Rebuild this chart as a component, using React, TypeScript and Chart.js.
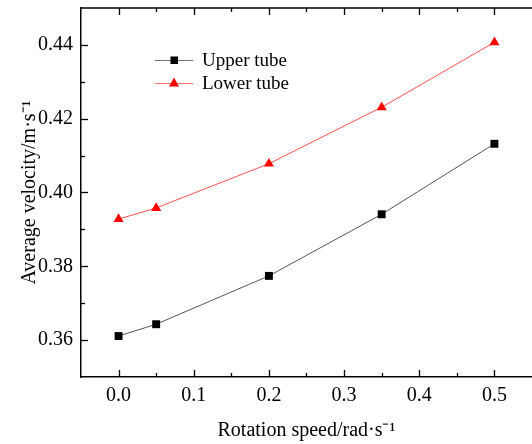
import React, { useEffect, useRef } from "react";
import { Chart, registerables } from "chart.js";

Chart.register(...registerables);

const rotationSpeeds = [0.0, 0.05, 0.2, 0.35, 0.5];
const upperTube = [0.3611, 0.3643, 0.3774, 0.3941, 0.4132];
const lowerTube = [0.3928, 0.3958, 0.4078, 0.4231, 0.4407];

const xMajorTicks = [0.0, 0.1, 0.2, 0.3, 0.4, 0.5];
const xMinorTicks = [0.05, 0.15, 0.25, 0.35, 0.45];
const yMajorTicks = [0.36, 0.38, 0.4, 0.42, 0.44];
const yMinorTicks = [0.37, 0.39, 0.41, 0.43];

const seriesNames = ["Upper tube", "Lower tube"];
const xTitle = "Rotation speed/rad·s⁻¹";
const yTitle = "Average velocity/m·s⁻¹";

const FONT = "'Liberation Serif', 'Times New Roman', serif";

const frameTicksPlugin = {
  id: "frameTicks",
  afterDraw(chart: any) {
    const { ctx, chartArea } = chart;
    const xs = chart.scales.x;
    const ys = chart.scales.y;
    const { left, right, top, bottom } = chartArea;
    ctx.save();
    ctx.strokeStyle = "#000";
    ctx.lineWidth = 1.5;
    ctx.beginPath();
    ctx.moveTo(left, top);
    ctx.lineTo(right + 2, top);
    ctx.stroke();
    ctx.lineWidth = 1.3;
    const major = 7;
    const minor = 4;
    const drawX = (v: number, len: number) => {
      const px = Math.round(xs.getPixelForValue(v)) + 0.5;
      ctx.beginPath();
      ctx.moveTo(px, bottom);
      ctx.lineTo(px, bottom - len);
      ctx.moveTo(px, top);
      ctx.lineTo(px, top + len);
      ctx.stroke();
    };
    const drawY = (v: number, len: number) => {
      const py = Math.round(ys.getPixelForValue(v)) + 0.5;
      ctx.beginPath();
      ctx.moveTo(left, py);
      ctx.lineTo(left + len, py);
      ctx.stroke();
    };
    xMajorTicks.forEach((v) => drawX(v, major));
    xMinorTicks.forEach((v) => drawX(v, minor));
    yMajorTicks.forEach((v) => drawY(v, major));
    yMinorTicks.forEach((v) => drawY(v, minor));
    ctx.restore();
  },
};

const legendPlugin = {
  id: "customLegend",
  afterDraw(chart: any) {
    const { ctx } = chart;
    const rows = [
      { y: 60, line: "#707070", fill: "#000", style: "rect" },
      { y: 83, line: "#ff7070", fill: "#ff0000", style: "triangle" },
    ];
    ctx.save();
    rows.forEach((row, i) => {
      ctx.strokeStyle = row.line;
      ctx.lineWidth = 1.2;
      ctx.beginPath();
      ctx.moveTo(155, row.y + 0.5);
      ctx.lineTo(193, row.y + 0.5);
      ctx.stroke();
      ctx.fillStyle = row.fill;
      if (row.style === "rect") {
        ctx.fillRect(174 - 3.5, row.y - 3.5, 7.5, 7.5);
      } else {
        ctx.beginPath();
        ctx.moveTo(174, row.y - 5.5);
        ctx.lineTo(179, row.y + 3.5);
        ctx.lineTo(169, row.y + 3.5);
        ctx.closePath();
        ctx.fill();
      }
      ctx.fillStyle = "#000";
      ctx.font = `19px ${FONT}`;
      ctx.textBaseline = "middle";
      ctx.textAlign = "left";
      ctx.fillText(seriesNames[i], 202, row.y + 1);
    });
    ctx.restore();
  },
};

export default function App() {
  const canvasRef = useRef<HTMLCanvasElement | null>(null);

  useEffect(() => {
    if (!canvasRef.current) return;
    const chart = new Chart(canvasRef.current, {
      type: "line",
      data: {
        datasets: [
          {
            label: seriesNames[0],
            data: rotationSpeeds.map((x, i) => ({ x, y: upperTube[i] })),
            borderColor: "#555",
            borderWidth: 1,
            backgroundColor: "#000",
            pointBackgroundColor: "#000",
            pointBorderColor: "#000",
            pointBorderWidth: 0,
            pointStyle: "rect",
            pointRadius: 5.6,
            tension: 0,
          },
          {
            label: seriesNames[1],
            data: rotationSpeeds.map((x, i) => ({ x, y: lowerTube[i] })),
            borderColor: "#ff5050",
            borderWidth: 1,
            backgroundColor: "#ff0000",
            pointBackgroundColor: "#ff0000",
            pointBorderColor: "#ff0000",
            pointBorderWidth: 0,
            pointStyle: "triangle",
            pointRadius: 5.8,
            tension: 0,
          },
        ],
      },
      options: {
        animation: false,
        responsive: false,
        maintainAspectRatio: false,
        layout: { autoPadding: false, padding: { top: 8, right: 0, left: 0, bottom: 0 } },
        plugins: {
          legend: { display: false },
          tooltip: { enabled: false },
        },
        scales: {
          x: {
            type: "linear",
            min: -0.05,
            max: 0.55,
            grid: { display: false, drawTicks: false },
            border: { display: true, color: "#000", width: 1.5 },
            afterBuildTicks: (scale: any) => {
              scale.ticks = xMajorTicks.map((v) => ({ value: v }));
            },
            afterFit: (scale: any) => {
              scale.height = 67;
              scale.paddingLeft = 0;
              scale.paddingRight = 0;
            },
            ticks: {
              color: "#000",
              font: { family: FONT, size: 20 },
              padding: 7,
              maxRotation: 0,
              callback: (v: any) => Number(v).toFixed(1),
            },
            title: {
              display: true,
              text: xTitle,
              color: "#000",
              font: { family: FONT, size: 20 },
              padding: { top: 0, bottom: 1 },
            },
          },
          y: {
            type: "linear",
            min: 0.35,
            max: 0.45,
            grid: { display: false, drawTicks: false },
            border: { display: true, color: "#000", width: 1.5 },
            afterBuildTicks: (scale: any) => {
              scale.ticks = yMajorTicks.map((v) => ({ value: v }));
            },
            afterFit: (scale: any) => {
              scale.width = 81;
              scale.paddingTop = 0;
              scale.paddingBottom = 0;
            },
            ticks: {
              color: "#000",
              font: { family: FONT, size: 20 },
              padding: 8,
              callback: (v: any) => Number(v).toFixed(2),
            },
            title: {
              display: true,
              text: yTitle,
              color: "#000",
              font: { family: FONT, size: 20 },
              padding: { top: 18, bottom: 0 },
            },
          },
        },
      },
      plugins: [frameTicksPlugin, legendPlugin],
    });
    return () => chart.destroy();
  }, []);

  return (
    <div style={{ position: "absolute", left: 0, top: 0, width: 532, height: 444, background: "#fff" }}>
      <canvas ref={canvasRef} width={532} height={444} style={{ width: 532, height: 444 }} />
    </div>
  );
}
